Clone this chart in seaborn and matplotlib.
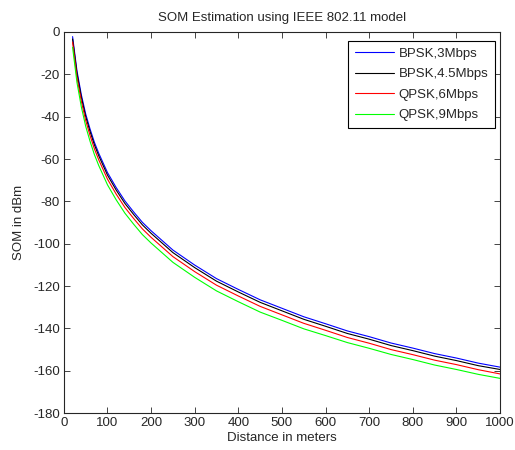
import pandas as pd
import matplotlib
matplotlib.use("Agg")
import matplotlib.pyplot as plt
import seaborn as sns

# distance (m) and SOM (dBm)
dist = [20, 30, 40, 50, 60, 70, 80, 100, 120, 140, 160, 180, 200, 250, 300,
        350, 400, 450, 500, 550, 600, 650, 700, 750, 800, 850, 900, 950, 1000]
bpsk3 = [-2.2, -18.3, -29.6, -38.7, -45.8, -52.1, -57.3, -66.4, -73.5, -79.8,
         -85.0, -89.9, -93.9, -103.0, -110.1, -116.5, -121.6, -126.5, -130.5,
         -134.5, -137.8, -141.2, -143.9, -146.9, -149.3, -151.9, -154.0, -156.4, -158.3]
bpsk45 = [-3.3, -19.5, -30.8, -39.9, -47.0, -53.3, -58.5, -67.6, -74.7, -81.0,
          -86.2, -91.1, -95.1, -104.2, -111.3, -117.7, -122.8, -127.7, -131.7,
          -135.7, -139.0, -142.4, -145.1, -148.1, -150.5, -153.1, -155.2, -157.6, -159.4]
qpsk6 = [-4.8, -21.4, -32.7, -41.8, -48.9, -55.2, -60.4, -69.5, -76.6, -82.9,
         -88.1, -93.0, -97.0, -106.1, -113.2, -119.6, -124.7, -129.6, -133.6,
         -137.6, -140.9, -144.3, -147.0, -150.0, -152.4, -155.0, -157.1, -159.5, -161.5]
qpsk9 = [-7.2, -23.8, -35.3, -44.5, -51.6, -57.9, -63.1, -72.2, -79.3, -85.6,
         -90.8, -95.7, -99.7, -108.8, -115.9, -122.3, -127.4, -132.3, -136.2,
         -140.2, -143.4, -146.7, -149.4, -152.3, -154.7, -157.3, -159.4, -161.7, -163.6]

labels = ['BPSK,3Mbps', 'BPSK,4.5Mbps', 'QPSK,6Mbps', 'QPSK,9Mbps']
colors = ['#0000ff', '#000000', '#ff0000', '#00ff00']

sns.set_style("ticks")
plt.rcParams['font.family'] = ['Liberation Sans', 'DejaVu Sans']
plt.rcParams['font.size'] = 9.5
plt.rcParams['axes.unicode_minus'] = False

fig = plt.figure(figsize=(5.15, 4.5), dpi=100)
ax = fig.add_axes([0.124, 0.082, 0.847, 0.847])

for y, lab, c in zip([bpsk3, bpsk45, qpsk6, qpsk9], labels, colors):
    df = pd.DataFrame({'d': dist, 'som': y})
    sns.lineplot(data=df, x='d', y='som', ax=ax, color=c, lw=0.8, label=lab)

ax.set_xlim(0, 1000)
ax.set_ylim(-180, 0)
ax.set_xticks(range(0, 1001, 100))
ax.set_yticks(range(-180, 1, 20))
ax.tick_params(direction='in', top=True, right=True, length=4, width=0.6,
               labelsize=9.5, pad=3)
for s in ax.spines.values():
    s.set_linewidth(0.8)
ax.set_title('SOM Estimation using IEEE 802.11 model', fontsize=9.5, pad=8)
ax.set_xlabel('Distance in meters', fontsize=9.5, labelpad=2)
ax.set_ylabel('SOM in dBm', fontsize=9.5, labelpad=6)

leg = ax.legend(loc='upper right', bbox_to_anchor=(0.9885, 0.976),
                borderaxespad=0, fontsize=9.5, frameon=True, fancybox=False,
                edgecolor='black', framealpha=1,
                handlelength=3.0, handletextpad=0.35, labelspacing=0.62,
                borderpad=0.5)
leg.get_frame().set_linewidth(0.8)

fig.savefig('out.png', dpi=100)
